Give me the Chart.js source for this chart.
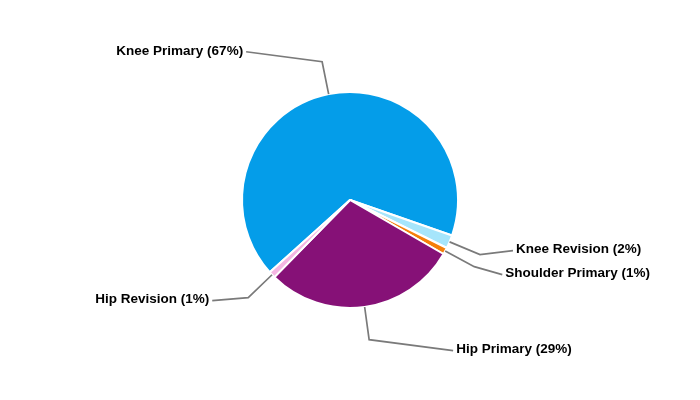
<!DOCTYPE html>
<html>
<head>
<meta charset="utf-8">
<script src="https://cdn.jsdelivr.net/npm/chart.js@4/dist/chart.umd.min.js"></script>
<style>
    html, body { margin: 0; padding: 0; background: #fff; }
    #wrap { width: 700px; height: 400px; }
</style>
</head>
<body>
<div id="wrap"><canvas id="chartpie"></canvas></div>
<script>
const categories = ["Knee Primary", "Knee Revision", "Shoulder Primary", "Hip Primary", "Hip Revision"];
const percents = [67, 2, 1, 29, 1];
const sliceColors = ["#049de9", "#a6e5fb", "#f57f0a", "#861177", "#f4b6e2"];

// where each label sits, relative to the elbow of its leader line
const labelOffsets = [[-76, -10], [33, -4], [28, 8], [84, 11], [-36, 3]];

var linecolor = "#7a7a7a"

const leaderLabels = {
    id: 'leaderLabels',
    afterDatasetsDraw(chart) {
        const ctx = chart.ctx;
        const arcs = chart.getDatasetMeta(0).data;
        ctx.save();
        ctx.font = "bold 13.5px 'Liberation Sans', Arial, sans-serif";
        ctx.textBaseline = "middle";
        ctx.strokeStyle = linecolor;
        ctx.lineWidth = 1.7;
        arcs.forEach((arc, i) => {
            const p = arc.getProps(['x', 'y', 'startAngle', 'endAngle', 'outerRadius'], true);
            const mid = (p.startAngle + p.endAngle) / 2;
            const sx = p.x + Math.cos(mid) * p.outerRadius;
            const sy = p.y + Math.sin(mid) * p.outerRadius;
            const ex = p.x + Math.cos(mid) * (p.outerRadius + 33);
            const ey = p.y + Math.sin(mid) * (p.outerRadius + 33);
            const off = labelOffsets[i];
            const lx = ex + off[0];
            const ly = ey + off[1];
            ctx.beginPath();
            ctx.moveTo(sx, sy);
            ctx.lineTo(ex, ey);
            ctx.lineTo(lx, ly);
            ctx.stroke();
            const left = off[0] < 0;
            ctx.textAlign = left ? "right" : "left";
            ctx.fillStyle = "#000";
            ctx.fillText(categories[i] + " (" + percents[i] + "%)", lx + (left ? -3 : 3), ly - 1);
        });
        ctx.restore();
    }
};

const dataPie = {
    labels: categories,
    datasets: [{
    data: percents,
    backgroundColor: sliceColors,
    borderColor: "#ffffff",
    borderWidth: 2,
    }]
};

const configPie = {
    type: 'pie',
    data: dataPie,
    options: {
        animation: false,
        responsive: true,
        maintainAspectRatio: false,
        rotation: 228,
        layout: {
            padding: { top: 91, bottom: 91 }
        },
        plugins: {
            legend: { display: false },
            tooltip: { enabled: false }
        }
    },
    plugins: [leaderLabels]
};

const chartPie = new Chart(
document.getElementById('chartpie'),
configPie
);
</script>
</body>
</html>
